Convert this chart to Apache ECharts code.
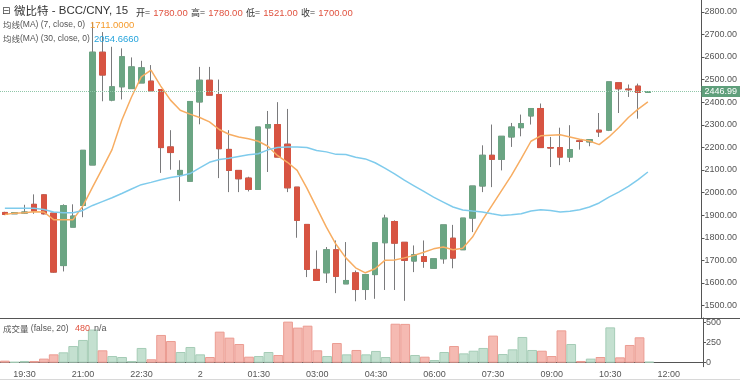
<!DOCTYPE html>
<html>
<head>
<meta charset="utf-8">
<script src="https://cdn.jsdelivr.net/npm/echarts@6/dist/echarts.min.js"></script>
<style>html,body{margin:0;padding:0;background:#fff}#c{width:740px;height:380px}</style>
</head>
<body>
<div id="c"></div>
<script>
const categories = ['19:00','19:15','19:30','19:45','20:00','20:15','20:30','20:45','21:00','21:15','21:30','21:45','22:00','22:15','22:30','22:45','23:00','23:15','23:30','23:45','00:00','00:15','00:30','00:45','01:00','01:15','01:30','01:45','02:00','02:15','02:30','02:45','03:00','03:15','03:30','03:45','04:00','04:15','04:30','04:45','05:00','05:15','05:30','05:45','06:00','06:15','06:30','06:45','07:00','07:15','07:30','07:45','08:00','08:15','08:30','08:45','09:00','09:15','09:30','09:45','10:00','10:15','10:30','10:45','11:00','11:15','11:30','11:45','12:00','12:15','12:30','12:45'];
const openP  = [1912,1906,1909,1948,1990,1909,1677,1847,1943,2122,2621,2409,2468,2460,2485,2493,2456,2202,2079,2050,2401,2497,2434,2191,2098,2064,2014,2286,2301,2214,2024,1859,1660,1645,1747,1596,1645,1571,1637,1778,1872,1780,1697,1717,1665,1707,1798,1747,1887,2029,2165,2147,2246,2287,2339,2372,2199,2199,2157,2229,2224,2276,2276,2486,2458,2471,2443];
const closeP = [1903,1911,1914,1918,1906,1648,1942,1896,2187,2621,2520,2468,2601,2556,2552,2450,2199,2177,2098,2403,2497,2431,2194,2098,2061,2014,2290,2301,2157,2021,1877,1660,1611,1747,1629,1611,1571,1637,1778,1887,1776,1700,1725,1695,1707,1857,1710,1887,2029,2165,2147,2249,2290,2305,2372,2199,2197,2157,2190,2226,2234,2268,2490,2459,2455,2443,2446.99];
const lowP   = [1900,1906,1906,1906,1903,1645,1651,1847,1891,2122,2404,2404,2412,2460,2485,2450,2087,2101,1962,2050,2302,2431,2064,2002,2002,2005,2014,2091,2157,2002,1800,1626,1611,1600,1555,1596,1519,1525,1530,1569,1569,1521,1648,1667,1665,1685,1665,1747,1825,2002,2024,2098,2202,2249,2301,2199,2113,2121,2135,2190,2205,2246,2272,2352,2423,2327,2443];
const highP  = [1915,1911,1946,1992,1993,1910,1948,1948,2187,2755,2710,2645,2638,2598,2583,2564,2456,2276,2143,2403,2556,2556,2500,2276,2098,2070,2290,2361,2400,2370,2024,1859,1744,1759,1788,1781,1655,1637,1778,1902,1877,1780,1766,1788,1707,1857,1857,1887,2029,2209,2301,2249,2308,2345,2372,2394,2246,2287,2298,2229,2234,2352,2490,2486,2478,2482,2447];
const ma7  = [1903,1909,1911,1915,1914,1880,1880,1880,1940,2024,2106,2190,2320,2423,2512,2542,2471,2409,2364,2347,2332,2313,2279,2258,2246,2238,2227,2205,2163,2134,2098,2020,1933,1847,1770,1711,1667,1645,1663,1700,1702,1711,1722,1736,1751,1759,1747,1754,1803,1877,1943,2010,2076,2150,2227,2251,2254,2256,2246,2236,2228,2212,2246,2287,2332,2369,2401];
const ma30 = [1931,1931,1931,1931,1925,1914,1911,1911,1921,1943,1960,1977,1996,2016,2035,2045,2057,2067,2073,2084,2109,2134,2146,2152,2160,2167,2172,2189,2199,2202,2202,2199,2186,2180,2169,2168,2156,2149,2132,2108,2083,2055,2030,2005,1980,1958,1936,1923,1918,1914,1906,1899,1902,1906,1918,1924,1921,1914,1917,1924,1936,1954,1980,2002,2027,2057,2091];
const volume = [25,10,21,21,50,103,128,206,281,410,153,82,70,21,182,42,343,268,132,194,103,70,384,310,231,74,82,132,95,508,434,458,153,82,243,103,157,103,145,70,482,480,95,74,33,132,206,115,148,182,335,107,165,318,157,148,82,400,231,21,50,70,437,66,219,314,12];
const priceTicks = [1500,1600,1700,1800,1900,2000,2100,2200,2300,2400,2500,2600,2700,2800];
const volumeTicks = [0,250,500];
const tickCategories = ['19:30','21:00','22:30','00:00','01:30','03:00','04:30','06:00','07:30','09:00','10:30','12:00'];
const tickLabels = ['19:30','21:00','22:30','2','01:30','03:00','04:30','06:00','07:30','09:00','10:30','12:00'];
const lastPrice = 2446.99;

const UP = '#6ba583', DOWN = '#d75442', WICK = '#7a7a7c';
const FONT = '"Liberation Sans", Arial, sans-serif';
const CJK = '"Noto Sans CJK SC", "Liberation Sans", sans-serif';

const ohlc = openP.map((o, i) => [o, closeP[i], lowP[i], highP[i]]);
const bodies = openP.map((o, i) => [o, closeP[i], Math.min(o, closeP[i]), Math.max(o, closeP[i])]);
const volData = volume.map((v, i) => ({
  value: v,
  itemStyle: closeP[i] >= openP[i]
    ? { color: '#c4e0d0', borderColor: '#a5ccb6' }
    : { color: '#f5bab2', borderColor: '#eb9c92' }
}));

const chart = echarts.init(document.getElementById('c'), null, { renderer: 'canvas' });
chart.setOption({
  animation: false,
  backgroundColor: '#ffffff',
  grid: [
    { left: -7.24, right: 37, top: 0, height: 318 },
    { left: -7.24, right: 37, top: 318, height: 48.7 }
  ],
  xAxis: [
    { type: 'category', gridIndex: 0, data: categories, boundaryGap: true,
      axisLine: { show: false }, axisTick: { show: false }, axisLabel: { show: false }, splitLine: { show: false } },
    { type: 'category', gridIndex: 1, data: categories, boundaryGap: true,
      axisLine: { show: true, lineStyle: { color: '#555', width: 1 } },
      axisTick: { show: false },
      axisLabel: {
        interval: (idx, val) => tickCategories.includes(val),
        formatter: (val) => tickLabels[tickCategories.indexOf(val)],
        fontSize: 9, color: '#555', margin: 3, fontFamily: FONT
      },
      splitLine: { show: false } }
  ],
  yAxis: [
    { type: 'value', gridIndex: 0, position: 'right', min: 1445, max: 2852, scale: true,
      axisLine: { show: true, lineStyle: { color: '#555' } },
      axisTick: { show: true, length: 3, lineStyle: { color: '#555' }, customValues: priceTicks },
      axisLabel: { customValues: priceTicks, formatter: v => v.toFixed(2), fontSize: 9, color: '#555', margin: 3, fontFamily: FONT },
      splitLine: { show: false } },
    { type: 'value', gridIndex: 1, position: 'right', min: -50, max: 553,
      axisLine: { show: true, lineStyle: { color: '#555' } },
      axisTick: { show: true, length: 3, lineStyle: { color: '#555' }, customValues: volumeTicks },
      axisLabel: { customValues: volumeTicks, fontSize: 9, color: '#555', margin: 3, fontFamily: FONT },
      splitLine: { show: false } }
  ],
  series: [
    { type: 'candlestick', xAxisIndex: 0, yAxisIndex: 0, data: ohlc, barWidth: 6,
      itemStyle: { color: 'rgba(0,0,0,0)', color0: 'rgba(0,0,0,0)', borderColor: WICK, borderColor0: WICK, borderWidth: 1 } },
    { type: 'candlestick', xAxisIndex: 0, yAxisIndex: 0, data: bodies, barWidth: 6,
      itemStyle: { color: UP, color0: DOWN, borderColor: UP, borderColor0: DOWN, borderWidth: 1 },
      markLine: {
        silent: true, symbol: ['none', 'none'],
        data: [{ yAxis: lastPrice }],
        lineStyle: { type: 'dotted', color: '#8fc6a8', width: 1 },
        label: { show: true, position: 'end', formatter: lastPrice.toFixed(2), backgroundColor: '#5f9f7b',
          color: '#fff', fontSize: 9, fontFamily: FONT, padding: [1, 3, 1, 3], distance: 0 }
      } },
    { type: 'line', xAxisIndex: 0, yAxisIndex: 0, data: ma7, symbol: 'none', smooth: false,
      lineStyle: { color: '#f7ad62', width: 1.5 }, z: 3 },
    { type: 'line', xAxisIndex: 0, yAxisIndex: 0, data: ma30, symbol: 'none', smooth: false,
      lineStyle: { color: '#7fcbec', width: 1.5 }, z: 3 },
    { type: 'bar', xAxisIndex: 1, yAxisIndex: 1, data: volData, barCategoryGap: '0%',
      itemStyle: { borderWidth: 1 } }
  ],
  graphic: [
    { type: 'line', shape: { x1: 0, y1: 318.5, x2: 740, y2: 318.5 }, style: { stroke: '#555', lineWidth: 1 }, z: 10 },
    { type: 'line', shape: { x1: 0, y1: 379.5, x2: 740, y2: 379.5 }, style: { stroke: '#d8d8d8', lineWidth: 1 }, z: 10 },
    { type: 'text', left: 2, top: 6, style: { text: '⊟', fontSize: 10, fill: '#444', fontFamily: '"DejaVu Sans", sans-serif' }, z: 10 },
    { type: 'text', left: 14, top: 5, style: {
        text: '{c|微比特}{l| - BCC/CNY, 15}',
        rich: { c: { fontSize: 11.5, fill: '#333', fontFamily: CJK }, l: { fontSize: 11.5, fill: '#333', fontFamily: FONT } } }, z: 10 },
    { type: 'text', left: 136, top: 7, style: {
        text: '{k|开=} {v|1780.00} {k|高=} {v|1780.00} {k|低=} {v|1521.00} {k|收=} {v|1700.00}',
        rich: { k: { fontSize: 9, fill: '#333', fontFamily: CJK }, v: { fontSize: 9.5, fill: '#e0523f', fontFamily: FONT } } }, z: 10 },
    { type: 'text', left: 3, top: 20, style: {
        text: '{c|均线}{l|(MA) (7, close, 0)}',
        rich: { c: { fontSize: 8.5, fill: '#555', fontFamily: CJK }, l: { fontSize: 8.5, fill: '#555', fontFamily: FONT } } }, z: 10 },
    { type: 'text', left: 90, top: 20, style: { text: '1711.0000', fontSize: 9.5, fill: '#f59b2c', fontFamily: FONT }, z: 10 },
    { type: 'text', left: 3, top: 34, style: {
        text: '{c|均线}{l|(MA) (30, close, 0)}',
        rich: { c: { fontSize: 8.5, fill: '#555', fontFamily: CJK }, l: { fontSize: 8.5, fill: '#555', fontFamily: FONT } } }, z: 10 },
    { type: 'text', left: 94, top: 34, style: { text: '2054.6660', fontSize: 9.5, fill: '#26a4dc', fontFamily: FONT }, z: 10 },
    { type: 'text', left: 3, top: 324, style: {
        text: '{c|成交量}{l| (false, 20)}',
        rich: { c: { fontSize: 8.5, fill: '#555', fontFamily: CJK }, l: { fontSize: 8.5, fill: '#555', fontFamily: FONT } } }, z: 10 },
    { type: 'text', left: 75, top: 324, style: { text: '480', fontSize: 9, fill: '#e0523f', fontFamily: FONT }, z: 10 },
    { type: 'text', left: 94, top: 324, style: { text: 'n/a', fontSize: 9, fill: '#555', fontFamily: FONT }, z: 10 }
  ]
});
</script>
</body>
</html>
